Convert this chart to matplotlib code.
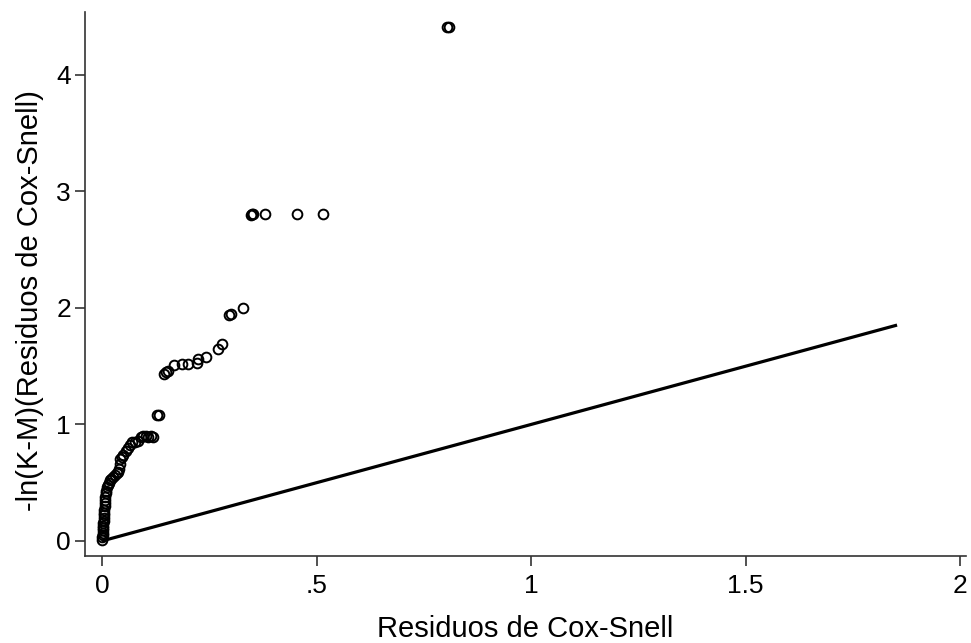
import numpy as np
import matplotlib
matplotlib.use("Agg")
import matplotlib.pyplot as plt

plt.rcParams['font.family'] = ['Liberation Sans', 'DejaVu Sans']

# Cox-Snell residuals (x) and -ln(K-M) cumulative hazard (y)
cs = [0.001, 0.001, 0.002, 0.002, 0.002, 0.003, 0.003, 0.003, 0.004, 0.004,
      0.004, 0.005, 0.005, 0.006, 0.006, 0.007, 0.008, 0.009, 0.010, 0.012,
      0.014, 0.016, 0.019, 0.022, 0.026, 0.030, 0.034, 0.037, 0.040, 0.042,
      0.043, 0.046, 0.050, 0.055, 0.060, 0.066, 0.070, 0.078, 0.084, 0.090,
      0.096, 0.102, 0.108, 0.114, 0.119, 0.129, 0.133, 0.145, 0.150, 0.155,
      0.168, 0.186, 0.200, 0.222, 0.224, 0.242, 0.270, 0.280, 0.296, 0.300,
      0.329, 0.348, 0.350, 0.352, 0.380, 0.455, 0.515, 0.805, 0.809]
H = [0.01, 0.03, 0.05, 0.07, 0.09, 0.11, 0.13, 0.15, 0.17, 0.20,
     0.22, 0.24, 0.27, 0.30, 0.33, 0.35, 0.38, 0.41, 0.43, 0.46,
     0.48, 0.50, 0.52, 0.53, 0.55, 0.57, 0.58, 0.59, 0.62, 0.66,
     0.70, 0.72, 0.74, 0.77, 0.80, 0.82, 0.85, 0.85, 0.86, 0.89,
     0.90, 0.90, 0.89, 0.90, 0.89, 1.08, 1.08, 1.43, 1.45, 1.46,
     1.51, 1.52, 1.52, 1.53, 1.56, 1.58, 1.65, 1.69, 1.94, 1.95,
     2.00, 2.80, 2.81, 2.81, 2.81, 2.81, 2.81, 4.41, 4.41]
# reference line runs over the full range of residuals (incl. censored)
cs_line = [0.0, 1.853]

xticks = [0, 0.5, 1, 1.5, 2]
xticklabels = ['0', '.5', '1', '1.5', '2']
yticks = [0, 1, 2, 3, 4]

fig = plt.figure(figsize=(9.71, 6.43), dpi=100)
ax = fig.add_axes([0.0875, 0.1353, 0.9075, 0.846])

ax.plot(cs_line, cs_line, color='black', lw=2.3, solid_capstyle='butt', zorder=2)
ax.plot(cs, H, 'o', ms=7, mfc='none', mec='black', mew=1.4, zorder=3)

ax.set_xlim(-0.0396, 2.014)
ax.set_ylim(-0.129, 4.54)
ax.set_xticks(xticks)
ax.set_xticklabels(xticklabels)
ax.set_yticks(yticks)

for s in ['top', 'right']:
    ax.spines[s].set_visible(False)
for s in ['left', 'bottom']:
    ax.spines[s].set_color('#333333')
    ax.spines[s].set_linewidth(1.2)
ax.tick_params(axis='both', length=7, width=1.2, color='#333333', labelsize=19)
ax.tick_params(axis='x', pad=6)
ax.tick_params(axis='y', pad=3)

ax.set_xlabel('Residuos de Cox-Snell', fontsize=21)
ax.set_ylabel('-ln(K-M)(Residuos de Cox-Snell)', fontsize=21)
ax.xaxis.set_label_coords(0.5, -0.108)
ax.yaxis.set_label_coords(-0.047, 0.47)

fig.savefig('out.png', dpi=100)
